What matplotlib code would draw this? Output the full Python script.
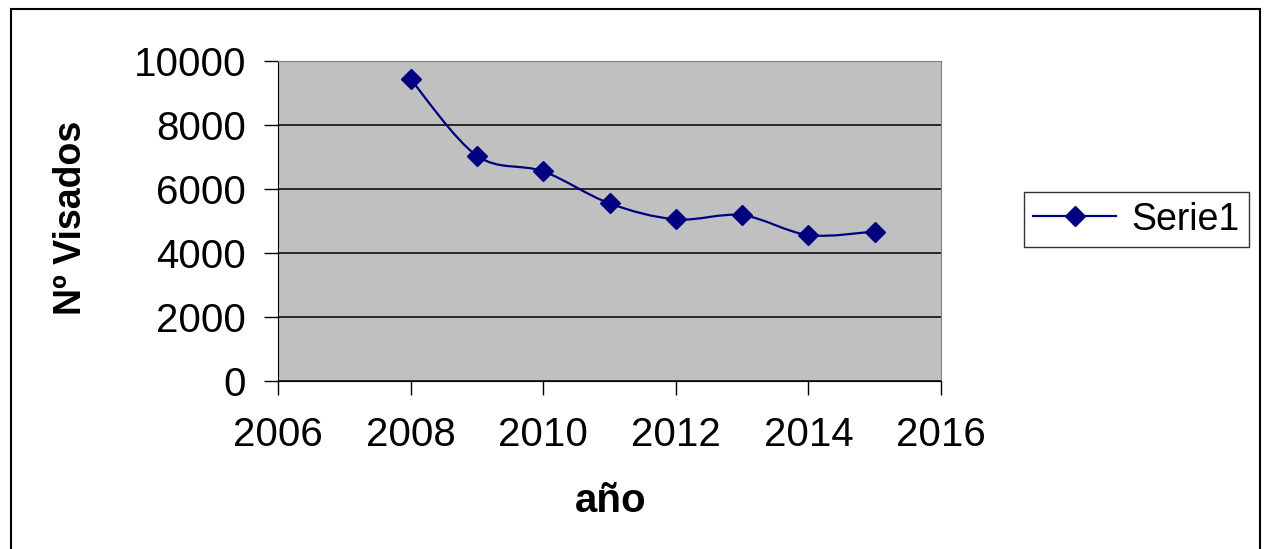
import numpy as np
import matplotlib.pyplot as plt
from matplotlib.path import Path
from matplotlib.patches import PathPatch, Rectangle
from matplotlib.lines import Line2D

plt.rcParams['font.family'] = ['Liberation Sans', 'DejaVu Sans']

# data
years = [2008, 2009, 2010, 2011, 2012, 2013, 2014, 2015]
visados = [9430, 7040, 6550, 5550, 5050, 5180, 4560, 4670]
x_ticks = [2006, 2008, 2010, 2012, 2014, 2016]
y_ticks = [0, 2000, 4000, 6000, 8000, 10000]

navy = "#000080"

fig = plt.figure(figsize=(12.64, 5.49), dpi=100)
ax = fig.add_axes([0.2199, 0.306, 0.5246, 0.583])
ax.set_facecolor("#c0c0c0")


# smoothed line like the spreadsheet one (bezier segments through the points)
def smooth_path(xs, ys):
    pts = np.column_stack((xs, ys)).astype(float)
    n = len(pts)
    verts = [pts[0]]
    codes = [Path.MOVETO]
    for i in range(n - 1):
        p0 = pts[i - 1] if i > 0 else pts[i]
        p1 = pts[i]
        p2 = pts[i + 1]
        p3 = pts[i + 2] if i + 2 < n else pts[i + 1]
        c1 = p1 + (p2 - p0) / 6.0
        c2 = p2 - (p3 - p1) / 6.0
        verts += [c1, c2, p2]
        codes += [Path.CURVE4] * 3
    return Path(verts, codes)


ax.add_patch(PathPatch(smooth_path(years, visados), facecolor="none",
                       edgecolor=navy, lw=1.6, zorder=3))
ax.plot(years, visados, ls="none", marker="D", ms=10, color=navy, zorder=4)

ax.set_xlim(2006, 2016)
ax.set_ylim(0, 10000)
ax.set_xticks(x_ticks)
ax.set_yticks(y_ticks)
ax.grid(axis="y", color="black", lw=1.1)
ax.set_axisbelow(True)
ax.tick_params(axis="both", direction="out", length=10, width=1,
               labelsize=29, color="black")
ax.tick_params(axis="y", pad=13)
ax.tick_params(axis="x", pad=15)
for s in ["top", "right"]:
    ax.spines[s].set_color("#808080")
for s in ["left", "bottom"]:
    ax.spines[s].set_color("black")

fig.text(0.056, 0.603, "Nº Visados", rotation=90, fontsize=27,
         fontweight="bold", ha="center", va="center")
fig.text(0.483, 0.088, "año", fontsize=29, fontweight="bold",
         ha="center", va="center")

handle = Line2D([], [], color=navy, marker="D", ms=10, lw=1.6)
leg = fig.legend([handle], ["Serie1"], loc="center",
                 bbox_to_anchor=(0.899, 0.6), fontsize=27, frameon=True,
                 fancybox=False, edgecolor="black", handlelength=2.2,
                 borderpad=0.25, handletextpad=0.4)
leg.get_frame().set_linewidth(1)

fig.patches.append(Rectangle((0.0087, -0.05), 0.9885, 1.0336,
                             transform=fig.transFigure, fill=False,
                             edgecolor="black", lw=1.5))

fig.savefig("out.png", dpi=100)
